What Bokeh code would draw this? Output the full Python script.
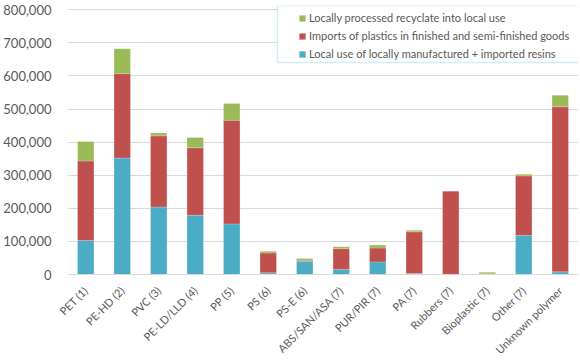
import math
from bokeh.plotting import figure
from bokeh.models import (ColumnDataSource, NumeralTickFormatter, FixedTicker, Legend, LegendItem,
                          Range1d, BoxAnnotation)
from bokeh.embed import file_html
from bokeh.resources import INLINE

categories = ["PET (1)", "PE-HD (2)", "PVC (3)", "PE-LD/LLD (4)", "PP (5)", "PS (6)", "PS-E (6)",
              "ABS/SAN/ASA (7)", "PUR/PIR (7)", "PA (7)", "Rubbers (7)", "Bioplastic (7)",
              "Other (7)", "Unknown polymer"]
local_resins = [103000, 352000, 204000, 179000, 153000, 5000, 40000, 15000, 38000, 3000, 0, 1000, 118000, 8000]
imports_goods = [240000, 255000, 215000, 204000, 313000, 60000, 3000, 63000, 42000, 126000, 252000, 1000, 180000, 499000]
recyclate = [59000, 75000, 9000, 31000, 51000, 5000, 5000, 6000, 9000, 5000, 0, 5000, 5000, 35000]
series_names = ["Local use of locally manufactured + imported resins",
                "Imports of plastics in finished and semi-finished goods",
                "Locally processed recyclate into local use"]
series_keys = ["local_resins", "imports_goods", "recyclate"]
colors = ["#4bacc6", "#c0504d", "#9bbb59"]
y_ticks = [0, 100000, 200000, 300000, 400000, 500000, 600000, 700000, 800000]

source = ColumnDataSource(dict(categories=categories, local_resins=local_resins,
                               imports_goods=imports_goods, recyclate=recyclate))

FONT = "Lato"
GRAY = "#595959"

p = figure(x_range=categories, width=580, height=363, output_backend="svg",
           toolbar_location=None, min_border_left=63, min_border_right=2,
           min_border_top=5, min_border_bottom=88)
p.y_range = Range1d(0, 813000)
p.x_range.range_padding = 0.0

renderers = p.vbar_stack(series_keys, x="categories", width=0.45, color=colors,
                         line_color="white", line_alpha=0.4, line_width=0.5, source=source)

# legend frame (white box with light-blue border)
box = BoxAnnotation(left=5.75, right=14.2, bottom=641000, top=813000,
                    fill_color="white", fill_alpha=1.0,
                    line_color="#6cc3dd", line_width=1.5, level="annotation")
p.add_layout(box)

items = [LegendItem(label=series_names[i], renderers=[renderers[i]]) for i in [2, 1, 0]]
legend = Legend(items=items, location=(231, 213))
legend.label_text_font = FONT
legend.label_text_font_size = "11px"
legend.label_text_color = GRAY
legend.glyph_width = 8
legend.glyph_height = 8
legend.label_standoff = 3
legend.spacing = 3
legend.padding = 3
legend.margin = 0
legend.label_height = 15
legend.border_line_color = None
legend.background_fill_alpha = 0
p.add_layout(legend)

p.yaxis.ticker = FixedTicker(ticks=y_ticks)
p.yaxis.formatter = NumeralTickFormatter(format="0,0")
p.yaxis.axis_line_color = None
p.yaxis.major_tick_line_color = None
p.yaxis.minor_tick_line_color = None
p.yaxis.major_label_text_font = FONT
p.yaxis.major_label_text_font_size = "13px"
p.yaxis.major_label_text_color = GRAY
p.yaxis.major_label_standoff = 10

p.xaxis.axis_line_color = "#d9d9d9"
p.xaxis.major_tick_line_color = None
p.xaxis.minor_tick_line_color = None
p.xaxis.major_label_orientation = math.pi / 4
p.xaxis.major_label_text_font = FONT
p.xaxis.major_label_text_font_size = "11px"
p.xaxis.major_label_text_color = GRAY
p.xaxis.major_label_standoff = 8

p.xgrid.grid_line_color = None
p.ygrid.grid_line_color = "#d9d9d9"
p.ygrid.ticker = FixedTicker(ticks=y_ticks)
p.outline_line_color = None

open("out.html", "w").write(file_html(p, INLINE))
